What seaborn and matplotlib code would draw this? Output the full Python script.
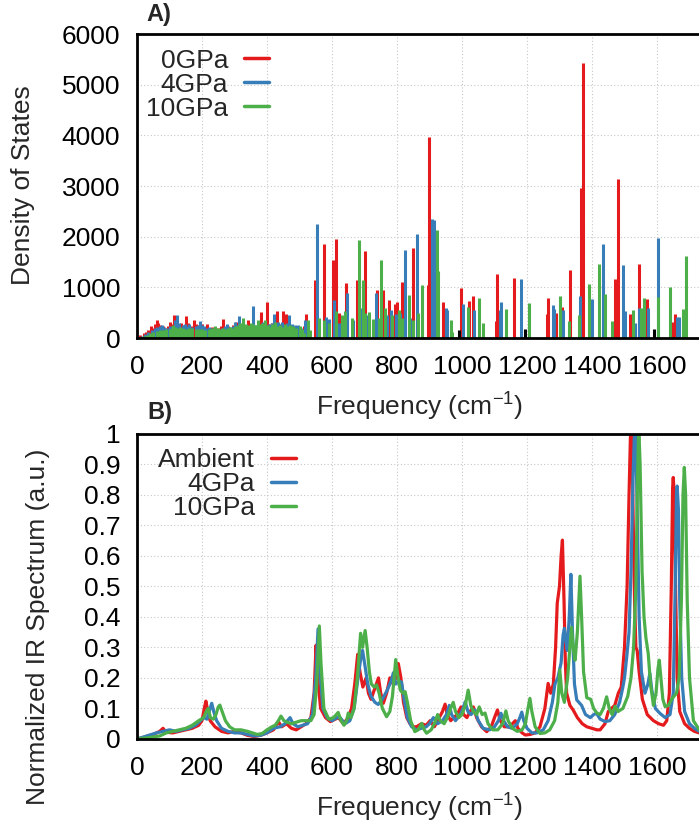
import numpy as np
import pandas as pd
import matplotlib
matplotlib.use("Agg")
import matplotlib.pyplot as plt
from matplotlib.lines import Line2D
import seaborn as sns

# ---------------- Data: panel A (density of states, impulses) ----------------
dos_labels = ["0GPa", "4GPa", "10GPa"]

dos_freq_0 = [10, 20, 28, 35, 42, 48, 55, 60, 66, 72, 80, 88, 95, 101, 108, 114, 120, 128, 135, 142,
              151, 158, 165, 175, 182, 190, 199, 207, 216, 225, 232, 240, 250, 258, 266, 272, 280, 290,
              296, 305, 312, 320, 330, 340, 348, 360, 372, 381, 388, 395, 401, 408, 416, 423, 430, 438,
              448, 452, 459, 466, 475, 485, 495, 505, 513, 520,
              547, 576, 602, 611, 621, 643, 676, 703, 739, 756, 776, 794, 801, 814, 849, 894, 900,
              943, 996, 1023, 1034, 1105, 1108, 1159, 1262, 1265, 1290, 1307, 1332, 1367, 1371,
              1470, 1481, 1517, 1546, 1568, 1648, 1655]
dos_val_0 = [60, 90, 110, 150, 230, 200, 280, 350, 300, 260, 240, 200, 230, 320, 280, 445, 330, 250, 300, 260,
             425, 300, 240, 360, 280, 250, 280, 220, 280, 200, 220, 180, 200, 240, 380, 220, 240, 200,
             260, 320, 220, 260, 240, 360, 200, 180, 260, 510, 300, 250, 709, 280, 300, 240, 530, 280,
             530, 300, 475, 280, 200, 220, 180, 160, 240, 475,
             1137, 1862, 1545, 1947, 500, 1084, 1150, 1710, 953, 940, 741, 675, 710, 1100, 1783, 1051, 3970,
             702, 985, 722, 820, 330, 1269, 1190, 480, 794, 490, 610, 1334, 2969, 5433,
             1170, 3140, 470, 1453, 767, 310, 480]

dos_freq_4 = [15, 25, 35, 45, 55, 63, 70, 76, 84, 92, 100, 110, 117, 122, 130, 140, 148, 155, 161, 170,
              180, 188, 194, 200, 206, 214, 222, 230, 240, 250, 260, 270, 276, 285, 294, 301, 308, 315,
              322, 332, 344, 356, 365, 375, 384, 389, 396, 405, 414, 422, 428, 435, 440, 445, 452, 462,
              469, 476, 486, 496, 505, 517,
              555, 580, 590, 605, 620, 646, 665, 690, 708, 734, 750, 770, 782, 796, 810, 825, 840, 862,
              909, 913, 952, 955, 1004, 1037, 1118, 1120, 1182, 1280, 1284, 1310, 1363, 1400, 1435,
              1496, 1503, 1532, 1544, 1572, 1602, 1661, 1669]
dos_val_4 = [40, 80, 120, 160, 200, 220, 230, 250, 220, 200, 240, 230, 350, 445, 300, 260, 280, 230, 280, 220,
             230, 260, 330, 260, 227, 200, 210, 190, 200, 180, 200, 230, 280, 220, 240, 320, 260, 425,
             250, 230, 200, 629, 250, 220, 280, 320, 260, 280, 300, 470, 300, 320, 280, 320, 260, 300,
             445, 280, 250, 250, 200, 360,
             2244, 420, 380, 741, 300, 886, 350, 600, 460, 886, 400, 450, 545, 480, 500, 1743, 400, 2046,
             2356, 2330, 597, 545, 675, 545, 560, 710, 1170, 642, 570, 545, 830, 775, 1862,
             1433, 534, 290, 600, 600, 1973, 420, 420]

dos_freq_10 = [10, 20, 30, 40, 50, 60, 70, 80, 90, 100, 107, 112, 118, 125, 132, 140, 150, 160, 170, 180,
               190, 200, 210, 220, 230, 240, 248, 256, 264, 272, 280, 286, 294, 302, 310, 318, 327, 334,
               342, 350, 358, 365, 371, 378, 386, 394, 402, 409, 416, 424, 432, 440, 448, 456, 464, 472,
               481, 490, 500, 508, 515, 527, 533,
               560, 575, 590, 613, 630, 640, 660, 684, 695, 700, 714, 725, 745, 752, 764, 785, 807, 815,
               837, 850, 865, 878, 924, 927, 965, 970, 1017, 1051, 1066, 1135, 1205, 1303, 1330, 1360,
               1392, 1420, 1440, 1463, 1525, 1550, 1559, 1604, 1641, 1681, 1688]
dos_val_10 = [20, 40, 60, 90, 110, 130, 150, 160, 170, 180, 200, 250, 220, 200, 210, 190, 180, 200, 190, 170,
              180, 170, 160, 180, 200, 227, 200, 180, 190, 170, 190, 214, 200, 230, 250, 300, 395, 280,
              260, 300, 280, 250, 365, 280, 300, 365, 250, 214, 280, 320, 240, 260, 220, 280, 230, 250,
              227, 200, 230, 180, 100, 346, 150,
              400, 350, 300, 540, 450, 540, 400, 1928, 1150, 500, 520, 380, 400, 1545, 600, 450, 545, 400,
              846, 350, 500, 1051, 2139, 1330, 363, 120, 620, 793, 290, 577, 690, 834, 330, 460,
              1058, 1453, 873, 330, 545, 600, 793, 800, 1005, 577, 1611]

dos_freq_extra = [992, 1193, 1591]
dos_val_extra = [150, 181, 181]

# ---------------- Data: panel B (normalized IR spectra) ----------------
ir_labels = ["Ambient", "4GPa", "10GPa"]

ir_freq_amb = [0, 20, 50, 70, 80, 90, 110, 130, 150, 170, 190, 200, 207, 212, 218, 225, 240, 260, 280, 300,
               320, 340, 360, 380, 400, 420, 435, 445, 460, 475, 490, 505, 520, 535, 545, 551, 556, 565,
               580, 595, 610, 620, 635, 650, 660, 670, 679, 686, 695, 705, 712, 720, 730, 743, 750, 758,
               768, 778, 788, 796, 804, 812, 820, 830, 840, 850, 860, 875, 890, 902, 915, 930, 940, 948,
               955, 965, 975, 985, 997, 1005, 1015, 1025, 1035, 1045, 1060, 1076, 1090, 1100, 1109, 1118,
               1130, 1145, 1155, 1164, 1172, 1185, 1195, 1210, 1225, 1240, 1255, 1265, 1273, 1281, 1288,
               1293, 1300, 1305, 1309, 1314, 1318, 1322, 1332, 1342, 1355, 1370, 1384, 1400, 1415, 1425,
               1440, 1450, 1460, 1470, 1481, 1490, 1500, 1508, 1514, 1518, 1520, 1523, 1527, 1531, 1535,
               1539, 1545, 1555, 1570, 1589, 1605, 1620, 1630, 1638, 1644, 1648, 1650, 1653, 1657, 1662,
               1670, 1685, 1700, 1715, 1730]
ir_val_amb = [0.0, 0.005, 0.015, 0.025, 0.035, 0.022, 0.02, 0.025, 0.03, 0.035, 0.045, 0.06, 0.1, 0.124,
              0.09, 0.06, 0.04, 0.025, 0.02, 0.025, 0.02, 0.012, 0.008, 0.012, 0.02, 0.03, 0.057, 0.04,
              0.05, 0.035, 0.03, 0.04, 0.05, 0.07, 0.15, 0.307, 0.2, 0.1, 0.07, 0.057, 0.065, 0.07, 0.05,
              0.07, 0.1, 0.18, 0.277, 0.22, 0.17, 0.2, 0.15, 0.13, 0.16, 0.2, 0.15, 0.117, 0.15, 0.2, 0.18,
              0.2, 0.247, 0.2, 0.12, 0.07, 0.05, 0.04, 0.04, 0.05, 0.045, 0.06, 0.04, 0.07, 0.09, 0.114,
              0.08, 0.06, 0.07, 0.08, 0.105, 0.08, 0.07, 0.09, 0.105, 0.07, 0.04, 0.024, 0.04, 0.07, 0.095,
              0.06, 0.04, 0.04, 0.05, 0.06, 0.035, 0.02, 0.013, 0.015, 0.02, 0.04, 0.1, 0.182, 0.15, 0.18,
              0.3, 0.444, 0.5, 0.6, 0.651, 0.45, 0.25, 0.15, 0.11, 0.095, 0.07, 0.05, 0.04, 0.035, 0.03,
              0.03, 0.05, 0.09, 0.1, 0.11, 0.15, 0.17, 0.3, 0.5, 0.8, 0.98, 1.02, 0.98, 0.7, 0.45, 0.3,
              0.29, 0.22, 0.13, 0.08, 0.06, 0.05, 0.045, 0.06, 0.15, 0.5, 0.82, 0.856, 0.8, 0.5, 0.2,
              0.09, 0.05, 0.035, 0.025, 0.02]

ir_freq_4 = [0, 30, 60, 80, 100, 120, 140, 160, 180, 195, 205, 215, 222, 230, 236, 245, 260, 280, 300, 320,
             340, 360, 380, 400, 420, 440, 455, 471, 480, 495, 510, 525, 540, 550, 557, 563, 572, 585, 600,
             615, 625, 640, 655, 668, 680, 688, 694, 700, 710, 720, 732, 742, 755, 770, 782, 789, 796, 806,
             814, 822, 832, 845, 860, 875, 890, 900, 912, 925, 940, 952, 961, 968, 980, 995, 1003, 1010,
             1018, 1028, 1040, 1050, 1065, 1085, 1100, 1112, 1120, 1128, 1140, 1155, 1170, 1178, 1184,
             1190, 1200, 1215, 1230, 1250, 1265, 1278, 1286, 1295, 1305, 1311, 1315, 1320, 1324, 1330,
             1335, 1340, 1346, 1353, 1368, 1380, 1395, 1405, 1414, 1425, 1440, 1455, 1470, 1485, 1495,
             1500, 1507, 1514, 1520, 1526, 1530, 1532, 1535, 1539, 1545, 1552, 1563, 1572, 1578, 1584,
             1595, 1609, 1625, 1640, 1650, 1656, 1660, 1662, 1666, 1670, 1676, 1685, 1700, 1715, 1730]
ir_val_4 = [0.0, 0.01, 0.02, 0.025, 0.03, 0.025, 0.03, 0.035, 0.045, 0.06, 0.07, 0.065, 0.09, 0.117, 0.09,
            0.06, 0.035, 0.025, 0.02, 0.02, 0.015, 0.01, 0.012, 0.02, 0.035, 0.04, 0.05, 0.07, 0.05, 0.04,
            0.045, 0.05, 0.08, 0.2, 0.36, 0.22, 0.1, 0.07, 0.06, 0.07, 0.07, 0.05, 0.06, 0.1, 0.2, 0.26,
            0.29, 0.25, 0.18, 0.14, 0.12, 0.113, 0.13, 0.16, 0.19, 0.217, 0.18, 0.19, 0.186, 0.13, 0.07,
            0.04, 0.03, 0.035, 0.04, 0.05, 0.07, 0.05, 0.06, 0.08, 0.11, 0.08, 0.06, 0.08, 0.1, 0.122,
            0.09, 0.08, 0.095, 0.06, 0.035, 0.03, 0.04, 0.06, 0.084, 0.06, 0.04, 0.035, 0.05, 0.07, 0.088,
            0.06, 0.035, 0.02, 0.02, 0.03, 0.06, 0.12, 0.18, 0.2, 0.25, 0.34, 0.362, 0.32, 0.29, 0.4,
            0.539, 0.35, 0.18, 0.128, 0.11, 0.08, 0.07, 0.08, 0.084, 0.065, 0.057, 0.06, 0.08, 0.12, 0.17,
            0.2, 0.27, 0.35, 0.55, 0.85, 0.98, 1.02, 0.98, 0.75, 0.4, 0.22, 0.15, 0.18, 0.215, 0.16,
            0.1, 0.084, 0.07, 0.08, 0.15, 0.5, 0.8, 0.828, 0.75, 0.45, 0.2, 0.09, 0.05, 0.035, 0.025]

ir_freq_10 = [0, 40, 70, 90, 110, 130, 150, 170, 190, 205, 213, 219, 226, 235, 243, 250, 255, 262, 272, 285,
              300, 320, 340, 355, 370, 385, 400, 415, 425, 435, 443, 452, 462, 475, 490, 505, 520, 535, 545,
              553, 561, 566, 575, 590, 605, 619, 628, 637, 645, 650, 658, 668, 678, 688, 694, 702, 708, 715,
              721, 730, 737, 745, 755, 768, 778, 786, 791, 796, 802, 810, 818, 825, 832, 842, 855, 865, 876,
              884, 891, 905, 915, 925, 933, 945, 955, 965, 973, 980, 990, 1000, 1010, 1019, 1027, 1035,
              1045, 1053, 1062, 1071, 1080, 1095, 1110, 1125, 1135, 1142, 1155, 1170, 1185, 1195, 1203,
              1209, 1215, 1225, 1240, 1255, 1270, 1285, 1295, 1301, 1307, 1315, 1325, 1332, 1337, 1342,
              1348, 1355, 1363, 1368, 1374, 1384, 1396, 1405, 1415, 1425, 1435, 1445, 1453, 1462, 1471,
              1480, 1495, 1510, 1520, 1528, 1535, 1540, 1544, 1548, 1554, 1560, 1566, 1573, 1580, 1589,
              1597, 1603, 1607, 1612, 1618, 1625, 1635, 1645, 1660, 1668, 1675, 1680, 1684, 1688, 1693,
              1700, 1712, 1730]
ir_val_10 = [0.0, 0.005, 0.01, 0.02, 0.025, 0.03, 0.035, 0.045, 0.06, 0.07, 0.09, 0.1, 0.07, 0.065, 0.08,
             0.105, 0.111, 0.09, 0.06, 0.04, 0.03, 0.03, 0.025, 0.02, 0.015, 0.018, 0.03, 0.04, 0.045, 0.06,
             0.075, 0.06, 0.055, 0.05, 0.055, 0.06, 0.06, 0.06, 0.08, 0.18, 0.37, 0.25, 0.1, 0.065, 0.07,
             0.087, 0.06, 0.045, 0.06, 0.085, 0.07, 0.1, 0.2, 0.346, 0.3, 0.355, 0.3, 0.22, 0.18, 0.17,
             0.177, 0.15, 0.1, 0.073, 0.09, 0.14, 0.2, 0.26, 0.21, 0.16, 0.15, 0.155, 0.12, 0.06, 0.024,
             0.03, 0.051, 0.03, 0.019, 0.03, 0.05, 0.08, 0.06, 0.05, 0.07, 0.1, 0.12, 0.09, 0.07, 0.08,
             0.11, 0.16, 0.11, 0.09, 0.08, 0.105, 0.08, 0.085, 0.05, 0.03, 0.03, 0.05, 0.092, 0.06, 0.035,
             0.025, 0.03, 0.05, 0.1, 0.133, 0.09, 0.04, 0.018, 0.02, 0.03, 0.06, 0.12, 0.226, 0.15, 0.12,
             0.2, 0.3, 0.365, 0.3, 0.258, 0.35, 0.533, 0.4, 0.22, 0.135, 0.13, 0.1, 0.085, 0.08, 0.1, 0.138,
             0.1, 0.08, 0.107, 0.09, 0.1, 0.14, 0.2, 0.3, 0.5, 0.85, 1.02, 0.9, 0.55, 0.4, 0.33, 0.28, 0.18,
             0.11, 0.15, 0.23, 0.258, 0.2, 0.13, 0.106, 0.11, 0.13, 0.15, 0.2, 0.45, 0.8, 0.889, 0.8, 0.45,
             0.2, 0.06, 0.03]

colors = ["#e41a1c", "#377eb8", "#4daf4a"]

# ---------------- Style ----------------
sns.set_style("white")
plt.rcParams["font.family"] = ["Liberation Sans", "DejaVu Sans"]
plt.rcParams["mathtext.fontset"] = "custom"
plt.rcParams["mathtext.rm"] = "Liberation Sans"
plt.rcParams["mathtext.default"] = "regular"

W, H = 699, 827
fig = plt.figure(figsize=(W / 100, H / 100), dpi=100)

def px_axes(left, top, right, bottom):
    return fig.add_axes([left / W, 1 - bottom / H, (right - left) / W, (bottom - top) / H])

axA = px_axes(137, 34, 699, 338)
axB = px_axes(137, 433.5, 699, 739)

XMAX = (699 - 137) / 0.325

def style_axis(ax):
    for side in ["left", "bottom", "top"]:
        ax.spines[side].set_visible(True)
        ax.spines[side].set_linewidth(2.0)
        ax.spines[side].set_color("black")
    ax.spines["right"].set_visible(False)
    ax.tick_params(axis="both", which="major", direction="in", length=7, width=1.3,
                   labelsize=19, colors="black", top=False, right=False)
    ax.tick_params(axis="y", pad=12)
    ax.tick_params(axis="x", pad=12)
    ax.grid(True, color="#c8c8c8", linestyle=(0, (1, 2)), linewidth=0.8)
    ax.set_axisbelow(True)
    ax.set_xlim(0, XMAX)
    ax.set_xticks(np.arange(0, 1601, 200))

# ---- Panel A ----
series_A = [(dos_freq_0, dos_val_0), (dos_freq_4, dos_val_4), (dos_freq_10, dos_val_10)]
for (fq, vv), c in zip(series_A, colors):
    axA.vlines(fq, 0, vv, colors=c, linewidth=2.2)
axA.vlines(dos_freq_extra, 0, dos_val_extra, colors="black", linewidth=2.2)
style_axis(axA)
axA.set_ylim(0, 6000)
axA.set_yticks(np.arange(0, 6001, 1000))
axA.set_ylabel("Density of States", fontsize=19)
axA.yaxis.set_label_coords(-0.1815, 0.503)
axA.set_xlabel("Frequency (cm$^{-1}$)", fontsize=19)
axA.xaxis.set_label_coords(0.5036, -0.2566)
axA.xaxis.label.set_va("baseline")

handlesA = [Line2D([0], [0], color=c, linewidth=2.5) for c in colors]
legA = axA.legend(handlesA, dos_labels, loc="upper right", bbox_to_anchor=(0.235, 0.952),
                  markerfirst=False, frameon=False, fontsize=19, handlelength=0.95,
                  handletextpad=0.6, labelspacing=0.0, borderpad=0, borderaxespad=0)
legA._legend_box._children[-1]._children[0].align = "right"

# ---- Panel B ----
ir_df = pd.concat([
    pd.DataFrame({"freq": ir_freq_amb, "val": ir_val_amb, "series": "Ambient"}),
    pd.DataFrame({"freq": ir_freq_4, "val": ir_val_4, "series": "4GPa"}),
    pd.DataFrame({"freq": ir_freq_10, "val": ir_val_10, "series": "10GPa"}),
], ignore_index=True)
sns.lineplot(data=ir_df, x="freq", y="val", hue="series", hue_order=ir_labels,
             palette=colors, estimator=None, sort=False, linewidth=2.3, legend=False, ax=axB)
style_axis(axB)
axB.set_ylim(0, 1)
yt = np.round(np.arange(0, 1.01, 0.1), 1)
axB.set_yticks(yt)
axB.set_yticklabels(["0"] + [f"{v:.1f}" for v in yt[1:-1]] + ["1"])
axB.set_ylabel("Normalized IR Spectrum (a.u.)", fontsize=19)
axB.yaxis.set_label_coords(-0.155, 0.366)
axB.set_xlabel("Frequency (cm$^{-1}$)", fontsize=19)
axB.xaxis.set_label_coords(0.5036, -0.2552)
axB.xaxis.label.set_va("baseline")

handlesB = [Line2D([0], [0], color=c, linewidth=2.5) for c in colors]
legB = axB.legend(handlesB, ir_labels, loc="upper right", bbox_to_anchor=(0.2824, 0.951),
                  markerfirst=False, frameon=False, fontsize=19, handlelength=0.95,
                  handletextpad=0.6, labelspacing=0.0, borderpad=0, borderaxespad=0)
legB._legend_box._children[-1]._children[0].align = "right"

fig.text(146 / W, 1 - 21.5 / H, "A)", fontsize=17, fontweight="bold", va="baseline", ha="left")
fig.text(147 / W, 1 - 419 / H, "B)", fontsize=17, fontweight="bold", va="baseline", ha="left")

fig.savefig("out.png", dpi=100)
